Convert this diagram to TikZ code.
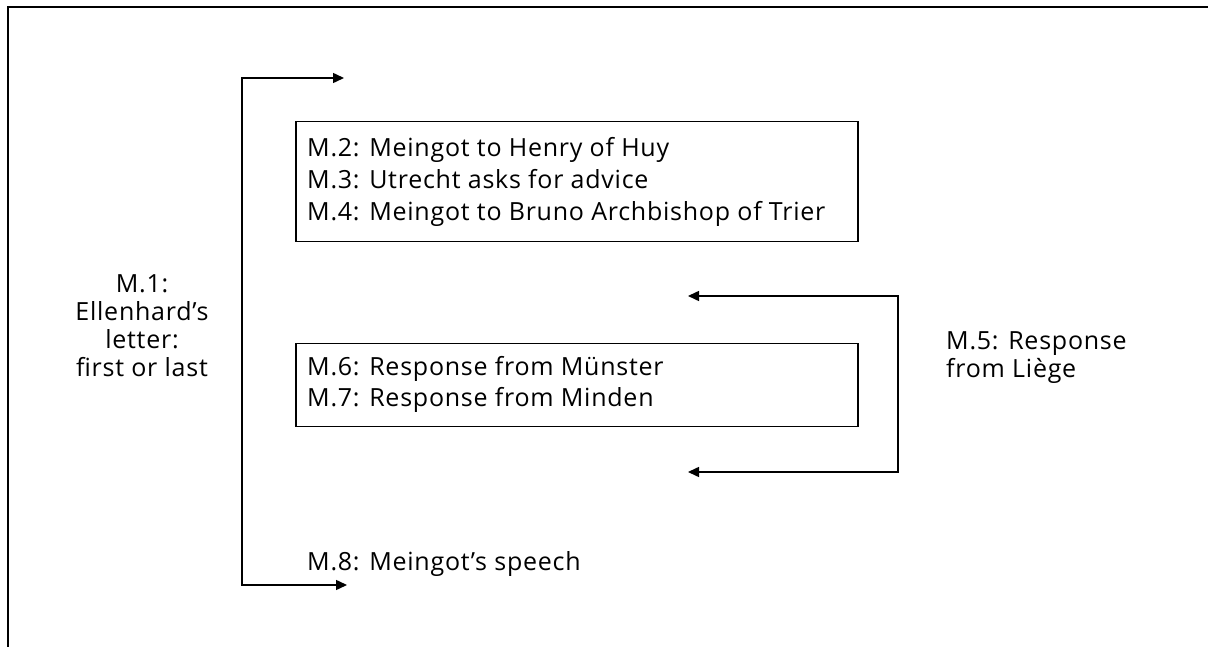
\documentclass[tikz,border=0pt]{standalone}
\usepackage{fontspec}
\setmainfont[LetterSpace=3]{Open Sans}
\usetikzlibrary{arrows.meta}
\begin{document}
\begin{tikzpicture}[x=1pt,y=1pt,
  txt/.style={inner sep=0pt, font=\fontsize{25}{28}\selectfont},
  lbl/.style={txt, anchor=base west},
  grp/.style={draw, line width=1.5pt, anchor=north west, inner sep=0pt},
  conn/.style={line width=1.5pt, {Triangle[length=11pt,width=10pt]}-{Triangle[length=11pt,width=10pt]}}]
  \useasboundingbox (0,0) rectangle (1208,646);
  % outer frame (only top and left edges fall inside the page)
  \draw[line width=2.5pt] (8,-10) -- (8,639) -- (1220,639);

  % grouped manuscripts
  \node[grp, minimum width=562pt, minimum height=120pt] (g1) at (295,525) {};
  \node[grp, minimum width=562pt, minimum height=83pt] (g2) at (295,303) {};

  \node[lbl] (m2) at (307,489) {M.2: Meingot to Henry of Huy};
  \node[lbl] (m3) at (307,457) {M.3: Utrecht asks for advice};
  \node[lbl] (m4) at (307,425) {M.4: Meingot to Bruno Archbishop of Trier};
  \node[lbl] (m6) at (307,270) {M.6: Response from Münster};
  \node[lbl] (m7) at (307,239) {M.7: Response from Minden};
  \node[lbl] (m8) at (307,76) {M.8: Meingot’s speech};

  \node[txt, align=center] (m1) at (142,320) {M.1:\\Ellenhard’s\\letter:\\first or last};
  \node[txt, align=left, anchor=north west] (m5) at (946,315) {M.5: Response\\from Liège};

  % placement brackets
  \coordinate (l1) at (242,568);
  \coordinate (l2) at (242,61);
  \coordinate (la) at (344,568);
  \coordinate (lb) at (347,61);
  \draw[conn] (la) -- (l1) -- (l2) -- (lb);

  \coordinate (r1) at (898,350);
  \coordinate (r2) at (898,174);
  \coordinate (ra) at (688,350);
  \coordinate (rb) at (688,174);
  \draw[conn] (ra) -- (r1) -- (r2) -- (rb);
\end{tikzpicture}
\end{document}
